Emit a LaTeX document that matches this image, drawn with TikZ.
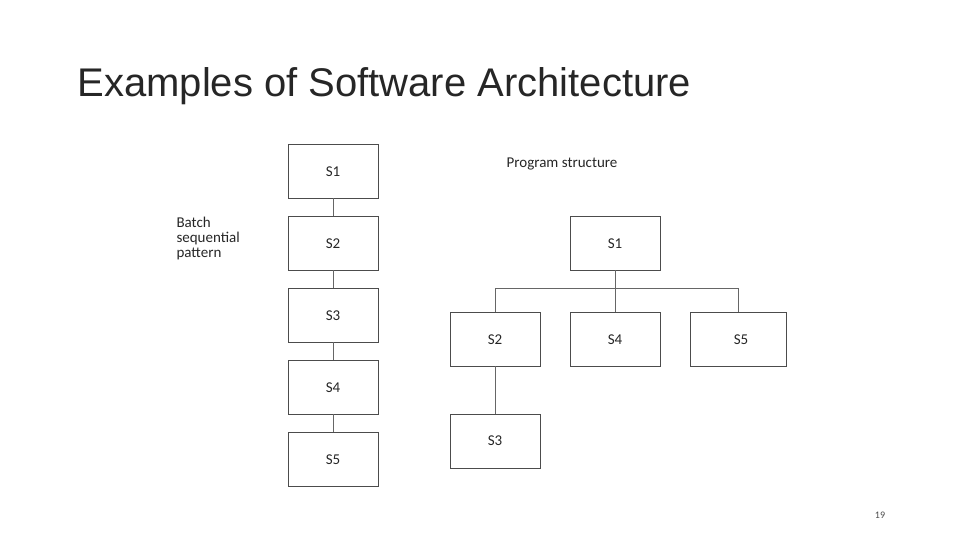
\documentclass[tikz,border=0pt]{standalone}
\usepackage{fontspec}
\setmainfont{Carlito}
\newfontfamily\titlefont{Liberation Sans}
\begin{document}
\begin{tikzpicture}[x=1pt,y=-1pt,
  bx/.style={draw=black!70,line width=0.8pt,minimum width=90pt,minimum height=54pt,inner sep=0pt},
  ln/.style={draw=black!60,line width=0.8pt},
  lbl/.style={font=\fontsize{15}{15}\selectfont,text=black!85}]
\useasboundingbox (0,0) rectangle (960,540);
\node[anchor=base west,font=\titlefont\fontsize{40}{40}\selectfont,text=black!85] (title) at (74,97) {Examples of Software Architecture};
% left column
\node[bx] (l1) at (333,171) {};
\node[bx] (l2) at (333,243) {};
\node[bx] (l3) at (333,315) {};
\node[bx] (l4) at (333,387) {};
\node[bx] (l5) at (333,459) {};
\node[lbl] (t1) at (333,172) {S1};
\node[lbl] (t2) at (333,244) {S2};
\node[lbl] (t3) at (333,316) {S3};
\node[lbl] (t4) at (333,388) {S4};
\node[lbl] (t5) at (333,460) {S5};
\draw[ln] (l1.south) -- (l2.north);
\draw[ln] (l2.south) -- (l3.north);
\draw[ln] (l3.south) -- (l4.north);
\draw[ln] (l4.south) -- (l5.north);
\node[lbl,align=left,anchor=north west] (batch) at (173,214) {Batch\\sequential\\pattern};
% right tree
\node[lbl] (ps) at (562,164) {Program structure};
\node[bx] (r1) at (615,243) {};
\node[lbl] (u1) at (615,244) {S1};
\node[bx] (r2) at (495,339) {};
\node[lbl] (u2) at (495,340) {S2};
\node[bx] (r4) at (615,339) {};
\node[lbl] (u4) at (615,340) {S4};
\node[bx,minimum width=96pt] (r5) at (738,339) {};
\node[lbl] (u5) at (741,340) {S5};
\node[bx] (r3) at (495,441) {};
\node[lbl] (u3) at (495,441) {S3};
\coordinate (bar) at (615,288);
\draw[ln] (r1.south) -- (bar);
\draw[ln] (r2.north) -- (495,288) -- (738,288) -- (r5.north);
\draw[ln] (bar) -- (r4.north);
\draw[ln] (r2.south) -- (r3.north);
\node[font=\fontsize{10}{10}\selectfont,text=black!70] (pg) at (880,515) {19};
\end{tikzpicture}
\end{document}
